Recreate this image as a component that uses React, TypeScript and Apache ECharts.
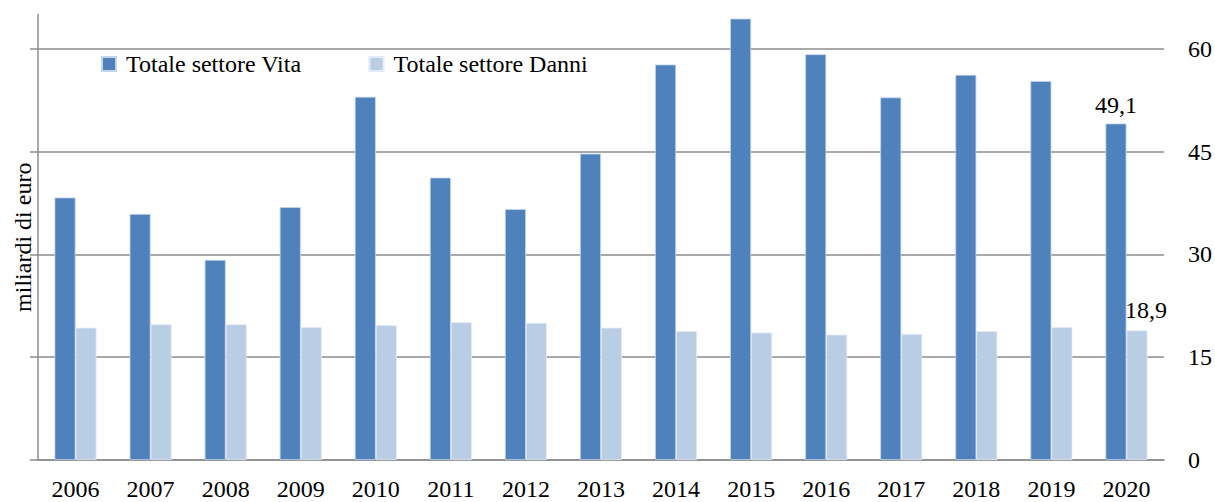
import React, { useEffect, useRef } from 'react';
import * as echarts from 'echarts';

const years = ['2006', '2007', '2008', '2009', '2010', '2011', '2012', '2013', '2014', '2015', '2016', '2017', '2018', '2019', '2020'];
const vita = [38.3, 35.9, 29.2, 36.9, 53.0, 41.2, 36.6, 44.7, 57.7, 64.4, 59.2, 52.9, 56.2, 55.3, 49.1];
const danni = [19.3, 19.8, 19.8, 19.4, 19.7, 20.1, 20.0, 19.3, 18.8, 18.6, 18.3, 18.4, 18.8, 19.4, 18.9];
const yTicks = [0, 15, 30, 45, 60];
const seriesNames = ['Totale settore Vita', 'Totale settore Danni'];
const seriesColors = ['#4F81BD', '#B9CDE5'];
const axisName = 'miliardi di euro';

const FONT = 'Liberation Serif';
const GRID = '#8c8c8c';

const fmt = (v: number) => String(v).replace('.', ',');

export default function App() {
  const ref = useRef<HTMLDivElement>(null);
  useEffect(() => {
    document.body.style.margin = '0';
    const chart = echarts.init(ref.current!, null, { renderer: 'svg' });
    const last = years.length - 1;
    const withLastLabel = (arr: number[], offset: number[]) =>
      arr.map((v, i) =>
        i === last
          ? {
              value: v,
              label: {
                show: true,
                position: 'top',
                offset,
                distance: 6,
                formatter: (p: any) => fmt(p.value),
                fontFamily: FONT,
                fontSize: 24,
                color: '#000',
              },
            }
          : v
      );
    chart.setOption({
      animation: false,
      textStyle: { fontFamily: FONT },
      grid: { left: 38, right: 51, top: 14.5, bottom: 42, containLabel: false },
      legend: {
        left: 96,
        top: 47,
        itemWidth: 14,
        itemHeight: 14,
        itemGap: 67,
        icon: 'rect',
        formatter: (name: string) => '{t|' + name + '}',
        textStyle: {
          fontFamily: FONT,
          fontSize: 24,
          color: '#000',
          rich: { t: { fontFamily: FONT, fontSize: 24, color: '#000', padding: [0, 0, 0, 5] } },
        },
        data: seriesNames,
      },
      xAxis: {
        type: 'category',
        data: years,
        axisLine: { show: true, lineStyle: { color: GRID, width: 1.5 } },
        axisTick: { show: false },
        axisLabel: { fontFamily: FONT, fontSize: 24, color: '#000', margin: 17 },
      },
      yAxis: [
        {
          type: 'value',
          position: 'right',
          min: 0,
          max: 65,
          interval: 15,
          axisLine: { show: false },
          axisTick: { show: false },
          axisLabel: {
            fontFamily: FONT,
            fontSize: 24,
            color: '#000',
            margin: 24,
            customValues: yTicks,
          },
          splitLine: { show: true, showMaxLine: false, lineStyle: { color: GRID, width: 1.5 } },
        },
        {
          type: 'value',
          position: 'left',
          min: 0,
          max: 65,
          interval: 15,
          name: axisName,
          nameLocation: 'middle',
          nameGap: 3,
          nameTextStyle: { fontFamily: FONT, fontSize: 24, color: '#000' },
          axisLine: { show: true, lineStyle: { color: GRID, width: 1.5 } },
          axisTick: { show: true, inside: false, length: 8, customValues: yTicks, lineStyle: { color: GRID, width: 1.5 } },
          axisLabel: { show: false },
          splitLine: { show: false },
        },
      ],
      series: [
        {
          name: seriesNames[0],
          type: 'bar',
          yAxisIndex: 0,
          barWidth: 21,
          barGap: '0%',
          itemStyle: { color: seriesColors[0], borderColor: '#c4d4ea', borderWidth: 0.8 },
          data: withLastLabel(vita, [0, 0]),
        },
        {
          name: seriesNames[1],
          type: 'bar',
          yAxisIndex: 0,
          barWidth: 21,
          barGap: '0%',
          itemStyle: { color: seriesColors[1], borderColor: '#e3ebf5', borderWidth: 0.8 },
          data: withLastLabel(danni, [9, -2]),
        },
      ],
    });
    return () => chart.dispose();
  }, []);
  return <div ref={ref} style={{ width: 1215, height: 502 }} />;
}
